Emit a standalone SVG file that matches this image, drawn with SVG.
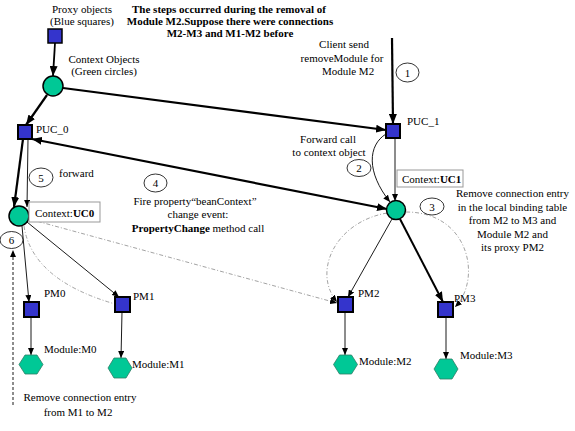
<svg xmlns="http://www.w3.org/2000/svg" width="575" height="431" viewBox="0 0 575 431">
<style>
text{font-family:"Liberation Serif","Times New Roman",serif;font-size:11px;fill:#000}
.b{font-weight:bold}
.m{text-anchor:middle}
.sq{fill:#3434cc;stroke:#000;stroke-width:2}
.ci{fill:#00c896;stroke:#000;stroke-width:1.5}
.hx{fill:#00c896;stroke:#2d7d66;stroke-width:0.8}
.box{fill:#fff;stroke:#999;stroke-width:1}
.num{fill:#fff;stroke:#000;stroke-width:0.8}
.thick{fill:none;stroke:#000;stroke-width:2.2}
.thin{fill:none;stroke:#000;stroke-width:0.9}
.dd{fill:none;stroke:#999;stroke-width:0.9;stroke-dasharray:4 2 1 2}
.dash{fill:none;stroke:#000;stroke-width:0.9;stroke-dasharray:3 2}
</style>
<defs>
<marker id="ab" markerUnits="userSpaceOnUse" markerWidth="10" markerHeight="8" refX="10" refY="4" orient="auto-start-reverse"><path d="M0,0 L10,4 L0,8 z" fill="#000"/></marker>
<marker id="as" markerUnits="userSpaceOnUse" markerWidth="7" markerHeight="6" refX="7" refY="3" orient="auto"><path d="M0,0 L7,3 L0,6 z" fill="#000"/></marker>
</defs>
<rect width="575" height="431" fill="#fff"/>
<g id="title">
<text class="b m" x="229" y="13">The steps occurred during the removal of</text>
<text class="b m" x="230" y="25">Module M2.Suppose there were connections</text>
<text class="b m" x="230" y="37">M2-M3 and M1-M2 before</text>
</g>
<g id="connectors">
<line class="thick" x1="55" y1="43" x2="53" y2="76" marker-end="url(#ab)" style="stroke-width:1.8"/>
<line class="thick" x1="47" y1="95" x2="26" y2="125" marker-end="url(#ab)"/>
<line class="thick" x1="63" y1="88" x2="386" y2="130" marker-end="url(#ab)"/>
<line class="thick" x1="392" y1="38" x2="393" y2="124" marker-end="url(#ab)"/>
<line class="thick" x1="32" y1="139" x2="387" y2="209" marker-start="url(#ab)" marker-end="url(#ab)"/>
<line class="thick" x1="23" y1="139" x2="14" y2="207" marker-end="url(#ab)"/>
<line class="thin" x1="28" y1="139" x2="27" y2="207" marker-end="url(#as)"/>
<line class="thin" x1="395" y1="138" x2="395" y2="201" marker-end="url(#as)"/>
<path class="thin" d="M386,134 C368,145 366,172 390,202" marker-end="url(#as)"/>
<line class="thin" x1="22" y1="226" x2="29" y2="302" marker-end="url(#as)"/>
<line class="thin" x1="27" y1="222" x2="119" y2="297" marker-end="url(#as)"/>
<path class="dd" d="M24,226 Q32,280 115,304"/>
<line class="dd" x1="29" y1="219" x2="337" y2="303" marker-end="url(#as)"/>
<line class="thin" x1="392" y1="219" x2="348" y2="297" marker-end="url(#as)"/>
<line class="thick" x1="400" y1="219" x2="443" y2="302" marker-end="url(#ab)" style="stroke-width:2"/>
<path class="dd" d="M387,213 C335,222 312,272 337,302" marker-end="url(#as)"/>
<path class="dd" d="M406,212 C470,212 482,280 455,307" marker-end="url(#as)"/>
<line class="thin" x1="31" y1="317" x2="31" y2="355" marker-end="url(#as)"/>
<line class="thin" x1="122" y1="312" x2="121" y2="358" marker-end="url(#as)"/>
<line class="thin" x1="345" y1="312" x2="345" y2="355" marker-end="url(#as)"/>
<line class="thin" x1="446" y1="317" x2="446" y2="359" marker-end="url(#as)"/>
<line class="dash" x1="13" y1="405" x2="13" y2="250" marker-end="url(#as)"/>
</g>
<g id="legend-proxy">
<rect class="sq" x="48" y="29" width="14" height="14" style="stroke-width:1.5"/>
<text class="m" x="82" y="12.5">Proxy objects</text>
<text class="m" x="82" y="25">(Blue squares)</text>
</g>
<g id="legend-context">
<circle class="ci" cx="53" cy="86" r="10"/>
<text class="m" x="104" y="62.5">Context Objects</text>
<text class="m" x="104" y="74.5">(Green circles)</text>
</g>
<g id="client-label">
<text class="m" x="344" y="48">Client send</text>
<text class="m" x="342" y="61.5">removeModule for</text>
<text class="m" x="348" y="75">Module M2</text>
</g>
<g id="puc0">
<rect class="sq" x="18" y="125" width="14" height="14"/>
<text x="36" y="133">PUC_0</text>
</g>
<g id="puc1">
<rect class="sq" x="386" y="124" width="14" height="14"/>
<text x="407" y="125">PUC_1</text>
</g>
<g id="uc0">
<circle class="ci" cx="19" cy="216" r="10"/>
<rect class="box" x="29" y="202" width="71" height="20"/>
<text x="35" y="216.5">Context:<tspan class="b">UC0</tspan></text>
</g>
<g id="uc1">
<circle class="ci" cx="396" cy="210" r="9.5"/>
<rect class="box" x="397" y="170" width="66" height="17"/>
<text x="402" y="182.5">Context:<tspan class="b">UC1</tspan></text>
</g>
<g id="pm0">
<rect class="sq" x="24" y="302" width="15" height="15"/>
<text x="44" y="297">PM0</text>
</g>
<g id="pm1">
<rect class="sq" x="115" y="297" width="15" height="15"/>
<text x="133" y="300">PM1</text>
</g>
<g id="pm2">
<rect class="sq" x="338" y="297" width="15" height="15"/>
<text x="358" y="297">PM2</text>
</g>
<g id="pm3">
<rect class="sq" x="438" y="302" width="15" height="15"/>
<text x="454" y="302">PM3</text>
</g>
<g id="m0">
<polygon class="hx" points="19,364.5 25,355 37,355 43,364.5 37,374 25,374"/>
<text x="44" y="353">Module:M0</text>
</g>
<g id="m1">
<polygon class="hx" points="108,368 114,358 126,358 132,368 126,378 114,378"/>
<text x="132" y="368">Module:M1</text>
</g>
<g id="m2">
<polygon class="hx" points="333.5,364.5 339.5,355 351.5,355 357.5,364.5 351.5,374 339.5,374"/>
<text x="359" y="365">Module:M2</text>
</g>
<g id="m3">
<polygon class="hx" points="434,369 440,359 452,359 458,369 452,379 440,379"/>
<text x="460" y="359">Module:M3</text>
</g>
<g id="step1"><ellipse class="num" cx="407.5" cy="72.5" rx="11.5" ry="9.5"/><text class="m" x="407.5" y="76.5">1</text></g>
<g id="step2">
<ellipse class="num" cx="359" cy="168" rx="12" ry="8.5"/><text class="m" x="359" y="172">2</text>
<text class="m" x="328" y="143">Forward call</text>
<text class="m" x="329" y="156">to context object</text>
</g>
<g id="step3">
<ellipse class="num" cx="432" cy="206.5" rx="12" ry="8.5"/><text class="m" x="432" y="210.5">3</text>
<text class="m" x="512.5" y="197">Remove connection entry</text>
<text class="m" x="512.5" y="210.5">in the local binding table</text>
<text class="m" x="512.5" y="224">from M2 to M3 and</text>
<text class="m" x="512.5" y="237.5">Module M2 and</text>
<text class="m" x="512.5" y="251">its proxy PM2</text>
</g>
<g id="step4">
<ellipse class="num" cx="155.5" cy="183" rx="11.5" ry="9"/><text class="m" x="155.5" y="187">4</text>
<text class="m" x="195" y="204.5">Fire property“beanContext”</text>
<text class="m" x="198" y="218">change event:</text>
<text class="m" x="198" y="231.5"><tspan class="b">PropertyChange</tspan> method call</text>
</g>
<g id="step5">
<ellipse class="num" cx="41" cy="177.5" rx="12" ry="9.5"/><text class="m" x="41" y="181.5">5</text>
<text x="59" y="177">forward</text>
</g>
<g id="step6">
<ellipse class="num" cx="11.5" cy="240" rx="11.5" ry="8.5"/><text class="m" x="11.5" y="244">6</text>
<text class="m" x="80" y="401">Remove connection entry</text>
<text class="m" x="78" y="416">from M1 to M2</text>
</g>
</svg>
